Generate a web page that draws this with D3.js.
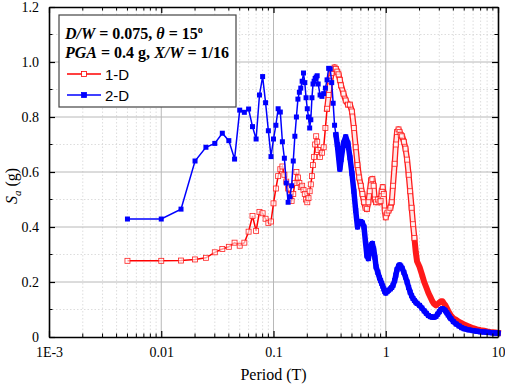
<!DOCTYPE html>
<html>
<head>
<meta charset="utf-8">
<script src="https://cdn.jsdelivr.net/npm/d3@7"></script>
<style>
  body { margin: 0; background: #fff; }
  svg { display: block; }
  .tick text { font-family: "Liberation Serif", "Times New Roman", serif; font-size: 14px; fill: #000; }
</style>
</head>
<body>
<div id="graf"></div>
<script>
// periods (s) shared by both spectra
const periods = [
  0.005, 0.01, 0.015, 0.02, 0.025, 0.03, 0.035, 0.04, 0.045, 0.05,
  0.055, 0.06, 0.065, 0.07, 0.075, 0.08, 0.085, 0.09, 0.095, 0.1,
  0.105, 0.11, 0.115, 0.12, 0.125, 0.13, 0.135, 0.14, 0.145, 0.15,
  0.155, 0.16, 0.165, 0.17, 0.175, 0.18, 0.185, 0.19, 0.195, 0.2,
  0.205, 0.21, 0.215, 0.22, 0.225, 0.23, 0.235, 0.24, 0.245, 0.25,
  0.26, 0.27, 0.28, 0.29, 0.3, 0.31, 0.32, 0.33, 0.34, 0.35, 0.36, 0.37, 0.38, 0.39, 0.4,
  0.42, 0.44, 0.46, 0.48, 0.5,
  0.52, 0.54, 0.56, 0.58, 0.6, 0.62, 0.64, 0.66, 0.68, 0.7, 0.72, 0.74, 0.76, 0.78, 0.8, 0.82,
  0.85, 0.88, 0.9, 0.92, 0.94, 0.96, 0.98, 1.0,
  1.03, 1.06, 1.1, 1.13, 1.16, 1.2, 1.23, 1.26, 1.3, 1.33, 1.36, 1.4,
  1.45, 1.5, 1.55, 1.6, 1.65, 1.7, 1.75, 1.8, 1.85, 1.9,
  2.0, 2.1, 2.2, 2.3, 2.4, 2.5, 2.6, 2.7, 2.8, 2.9, 3.0, 3.1, 3.2, 3.3, 3.4, 3.5, 3.6, 3.7, 3.8,
  4.0, 4.25, 4.5, 4.75, 5,
  5.5, 6, 6.5, 7, 7.5, 8, 8.5, 9, 9.5, 10
]

// Sa (g), 1-D analysis
const sa1D = [
  0.277, 0.277, 0.278, 0.282, 0.288, 0.308, 0.320, 0.328, 0.343, 0.332,
  0.343, 0.383, 0.440, 0.386, 0.455, 0.450, 0.430, 0.415, 0.420, 0.486,
  0.540, 0.585, 0.610, 0.620, 0.590, 0.565, 0.540, 0.515, 0.495, 0.520,
  0.560, 0.600, 0.580, 0.560, 0.545, 0.550, 0.535, 0.520, 0.500, 0.490,
  0.505, 0.530, 0.555, 0.585, 0.625, 0.655, 0.700, 0.730, 0.710, 0.680,
  0.655, 0.670, 0.690, 0.760, 0.830, 0.880, 0.930, 0.960, 0.975, 0.980, 0.975, 0.965, 0.955, 0.935, 0.915,
  0.885, 0.860, 0.845, 0.845, 0.820,
  0.760, 0.690, 0.625, 0.580, 0.550, 0.520, 0.490, 0.470, 0.465, 0.490, 0.530, 0.570, 0.575, 0.550, 0.500, 0.490,
  0.500, 0.490, 0.495, 0.530, 0.545, 0.520, 0.460, 0.435,
  0.450, 0.460, 0.470, 0.490, 0.550, 0.630, 0.700, 0.745, 0.755, 0.745, 0.735, 0.730,
  0.710, 0.685, 0.645, 0.590, 0.530, 0.470, 0.410, 0.360, 0.310, 0.275,
  0.255, 0.228, 0.200, 0.180, 0.160, 0.145, 0.130, 0.120, 0.115, 0.120, 0.125, 0.130, 0.130, 0.122, 0.115, 0.105, 0.095, 0.086, 0.078,
  0.068, 0.062, 0.055, 0.050, 0.045,
  0.038, 0.032, 0.028, 0.025, 0.023, 0.020, 0.018, 0.017, 0.016, 0.015
]

// Sa (g), 2-D analysis
const sa2D = [
  0.429, 0.429, 0.465, 0.640, 0.690, 0.704, 0.741, 0.714, 0.647, 0.825,
  0.817, 0.829, 0.765, 0.720, 0.880, 0.947, 0.852, 0.750, 0.656, 0.720,
  0.770, 0.830, 0.818, 0.710, 0.650, 0.560, 0.490, 0.510, 0.550, 0.640,
  0.730, 0.800, 0.865, 0.890, 0.905, 0.930, 0.960, 0.925, 0.870, 0.830,
  0.800, 0.760, 0.790, 0.870, 0.920, 0.930, 0.940, 0.945, 0.950, 0.920,
  0.880, 0.875, 0.885, 0.905, 0.935, 0.977, 0.975, 0.925, 0.850, 0.770, 0.735, 0.700, 0.655, 0.610, 0.645,
  0.705, 0.728, 0.705, 0.652, 0.595,
  0.530, 0.460, 0.400, 0.420, 0.420, 0.415, 0.400, 0.345, 0.295, 0.285, 0.310, 0.335, 0.340, 0.320, 0.290, 0.255,
  0.235, 0.215, 0.205, 0.195, 0.185, 0.175, 0.165, 0.160,
  0.165, 0.170, 0.175, 0.180, 0.188, 0.205, 0.225, 0.245, 0.258, 0.262, 0.258, 0.250,
  0.235, 0.218, 0.200, 0.180, 0.163, 0.150, 0.140, 0.133, 0.127, 0.122,
  0.115, 0.105, 0.095, 0.086, 0.078, 0.074, 0.072, 0.072, 0.075, 0.083, 0.092, 0.100, 0.103, 0.100, 0.095, 0.088, 0.080, 0.073, 0.067,
  0.056, 0.047, 0.040, 0.034, 0.030,
  0.026, 0.023, 0.021, 0.019, 0.018, 0.017, 0.016, 0.015, 0.015, 0.014
]

const xMajor = [0.001, 0.01, 0.1, 1, 10]
const xTickLabels = ["1E-3", "0.01", "0.1", "1", "10"]
const yMajor = [0, 0.2, 0.4, 0.6, 0.8, 1.0, 1.2]
const yTickLabels = ["0", "0.2", "0.4", "0.6", "0.8", "1.0", "1.2"]
const yMinor = [0.1, 0.3, 0.5, 0.7, 0.9, 1.1]

const anchoTotal = 505
const altoTotal = 385
const margins = { left: 49, top: 7, right: 7, bottom: 48 }

const svg = d3.select("#graf")
  .append("svg")
  .attr("width", anchoTotal)
  .attr("height", altoTotal)

const x = d3.scaleLog().domain([0.001, 10]).range([margins.left, anchoTotal - margins.right])
const y = d3.scaleLinear().domain([0, 1.2]).range([altoTotal - margins.bottom, margins.top])

const x0 = x.range()[0], x1 = x.range()[1]
const y0 = y.range()[0], y1 = y.range()[1]

// minor log positions
const xMinor = []
xMajor.slice(0, -1).forEach((d) => {
  for (let k = 2; k <= 9; k++) xMinor.push(d * k)
})

// grid
const grid = svg.append("g")
grid.selectAll(".gxm").data(xMinor).join("line")
  .attr("x1", (d) => x(d)).attr("x2", (d) => x(d))
  .attr("y1", y0).attr("y2", y1)
  .attr("stroke", "#d4d4d4").attr("stroke-width", 0.8).attr("stroke-dasharray", "1.5,2")
grid.selectAll(".gym").data(yMinor).join("line")
  .attr("x1", x0).attr("x2", x1)
  .attr("y1", (d) => y(d)).attr("y2", (d) => y(d))
  .attr("stroke", "#d4d4d4").attr("stroke-width", 0.8).attr("stroke-dasharray", "1.5,2")
grid.selectAll(".gx").data(xMajor.slice(1, -1)).join("line")
  .attr("x1", (d) => x(d)).attr("x2", (d) => x(d))
  .attr("y1", y0).attr("y2", y1)
  .attr("stroke", "#b8b8b8").attr("stroke-width", 1)
grid.selectAll(".gy").data(yMajor.slice(1, -1)).join("line")
  .attr("x1", x0).attr("x2", x1)
  .attr("y1", (d) => y(d)).attr("y2", (d) => y(d))
  .attr("stroke", "#b8b8b8").attr("stroke-width", 1)

// series
const pts1 = periods.map((p, i) => ({ p, v: sa1D[i] }))
const pts2 = periods.map((p, i) => ({ p, v: sa2D[i] }))
const line = d3.line().x((d) => x(d.p)).y((d) => y(d.v))

// where the markers sit so close they merge into a band
const band = (sel, pts, color, w) =>
  sel.append("path").datum(pts)
    .attr("d", line).attr("fill", "none").attr("stroke", color)
    .attr("stroke-width", w).attr("stroke-linejoin", "round").attr("stroke-linecap", "square")

// 1-D
band(svg, pts1.filter((d) => d.p >= 0.3), "#ff1a1a", 6)
band(svg, pts1.filter((d) => d.p >= 0.3 && d.p <= 1.8), "#ffe6e6", 3.4)
svg.append("path").datum(pts1.filter((d) => d.p <= 0.3))
  .attr("d", line).attr("fill", "none").attr("stroke", "#ff0000").attr("stroke-width", 1.5)
svg.append("g").selectAll("rect").data(pts1.filter((d) => d.p <= 1.8)).join("rect")
  .attr("x", (d) => x(d.p) - 2.5).attr("y", (d) => y(d.v) - 2.5)
  .attr("width", 5).attr("height", 5)
  .attr("fill", "#fff").attr("fill-opacity", 0.6).attr("stroke", "#ff2020").attr("stroke-width", 0.8)

// 2-D
band(svg, pts2.filter((d) => d.p >= 0.36), "#0000ff", 5.5)
svg.append("path").datum(pts2)
  .attr("d", line).attr("fill", "none").attr("stroke", "#0000ff").attr("stroke-width", 1.5)
svg.append("g").selectAll("rect").data(pts2).join("rect")
  .attr("x", (d) => x(d.p) - 2.5).attr("y", (d) => y(d.v) - 2.5)
  .attr("width", 5).attr("height", 5)
  .attr("fill", "#0000ff")

// axes (ticks inward)
const fmtX = (d) => xTickLabels[xMajor.indexOf(d)]
const fmtY = (d) => yTickLabels[yMajor.indexOf(d)]

const axB = svg.append("g").attr("transform", `translate(0, ${y0})`)
  .call(d3.axisBottom(x).tickValues(xMajor).tickFormat(fmtX).tickSizeInner(-6).tickSizeOuter(0).tickPadding(10))
const axT = svg.append("g").attr("transform", `translate(0, ${y1})`)
  .call(d3.axisTop(x).tickValues(xMajor).tickFormat("").tickSizeInner(-6).tickSizeOuter(0))
const axL = svg.append("g").attr("transform", `translate(${x0}, 0)`)
  .call(d3.axisLeft(y).tickValues(yMajor).tickFormat(fmtY).tickSizeInner(-6).tickSizeOuter(0).tickPadding(10))
const axR = svg.append("g").attr("transform", `translate(${x1}, 0)`)
  .call(d3.axisRight(y).tickValues(yMajor).tickFormat("").tickSizeInner(-6).tickSizeOuter(0))

;[axB, axT, axL, axR].forEach((a) => {
  a.select(".domain").attr("stroke", "#000").attr("stroke-width", 1.6)
  a.selectAll(".tick line").attr("stroke", "#000").attr("stroke-width", 1.2)
})

// minor ticks
const mt = svg.append("g").attr("stroke", "#000").attr("stroke-width", 1)
mt.selectAll(".mb").data(xMinor).join("line")
  .attr("x1", (d) => x(d)).attr("x2", (d) => x(d)).attr("y1", y0).attr("y2", y0 - 3.5)
mt.selectAll(".mtp").data(xMinor).join("line")
  .attr("x1", (d) => x(d)).attr("x2", (d) => x(d)).attr("y1", y1).attr("y2", y1 + 3.5)
mt.selectAll(".ml").data(yMinor).join("line")
  .attr("x1", x0).attr("x2", x0 + 3.5).attr("y1", (d) => y(d)).attr("y2", (d) => y(d))
mt.selectAll(".mr").data(yMinor).join("line")
  .attr("x1", x1).attr("x2", x1 - 3.5).attr("y1", (d) => y(d)).attr("y2", (d) => y(d))

// axis titles
svg.append("text")
  .attr("x", (x0 + x1) / 2).attr("y", 380)
  .attr("text-anchor", "middle")
  .style("font-family", "Liberation Serif, serif").style("font-size", "16px")
  .text("Period (T)")

const yt = svg.append("text")
  .attr("transform", "translate(17, 186) rotate(-90)")
  .attr("text-anchor", "middle")
  .style("font-family", "Liberation Serif, serif").style("font-size", "16px")
yt.append("tspan").style("font-style", "italic").text("S")
yt.append("tspan").style("font-style", "italic").style("font-size", "11px").attr("dy", 4).text("a")
yt.append("tspan").attr("dy", -4).text(" (g)")

// legend
const lg = svg.append("g")
lg.append("rect")
  .attr("x", 59).attr("y", 15).attr("width", 177).attr("height", 92)
  .attr("fill", "#fff").attr("stroke", "#444").attr("stroke-width", 1.2)

const t1 = lg.append("text").attr("x", 65).attr("y", 39)
  .style("font-family", "Liberation Serif, serif").style("font-size", "16px").style("font-weight", "bold")
t1.append("tspan").style("font-style", "italic").text("D/W")
t1.append("tspan").text(" = 0.075, ")
t1.append("tspan").style("font-style", "italic").text("θ")
t1.append("tspan").text(" = 15")
t1.append("tspan").attr("dy", -6).style("font-size", "10px").text("o")

const t2 = lg.append("text").attr("x", 65).attr("y", 58)
  .style("font-family", "Liberation Serif, serif").style("font-size", "16px").style("font-weight", "bold")
t2.append("tspan").style("font-style", "italic").text("PGA")
t2.append("tspan").text(" = 0.4 g, ")
t2.append("tspan").style("font-style", "italic").text("X/W")
t2.append("tspan").text(" = 1/16")

const items = [
  { name: "1-D", color: "#ff0000", fill: "#fff", yy: 74 },
  { name: "2-D", color: "#0000ff", fill: "#0000ff", yy: 95 }
]
items.forEach((it) => {
  lg.append("line").attr("x1", 67).attr("x2", 101).attr("y1", it.yy).attr("y2", it.yy)
    .attr("stroke", it.color).attr("stroke-width", 1.5)
  lg.append("rect").attr("x", 84 - 2.5).attr("y", it.yy - 2.5).attr("width", 5).attr("height", 5)
    .attr("fill", it.fill).attr("stroke", it.color).attr("stroke-width", 0.8)
  lg.append("text").attr("x", 105).attr("y", it.yy + 5.5)
    .style("font-family", "Liberation Sans, Arial, sans-serif").style("font-size", "15px")
    .text(it.name)
})
</script>
</body>
</html>
